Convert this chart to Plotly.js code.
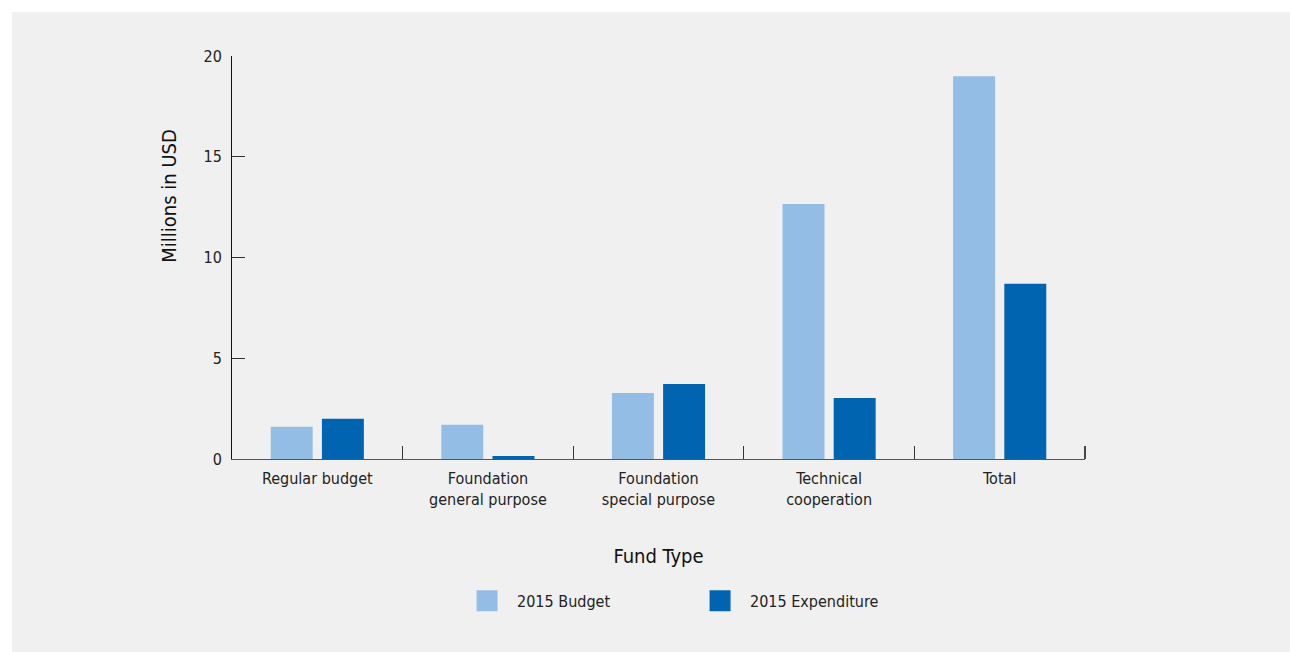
<!DOCTYPE html>
<html>
<head>
<meta charset="utf-8">
<script src="https://cdn.plot.ly/plotly-3.0.1.min.js"></script>
<style>
  html, body { margin: 0; padding: 0; background: #ffffff; }
  #chart { position: absolute; left: 12px; top: 12px; width: 1278px; height: 640px; }
</style>
</head>
<body>
<div id="chart"></div>
<script>
const categories = [
  "Regular budget",
  "Foundation<br>general purpose",
  "Foundation<br>special purpose",
  "Technical<br>cooperation",
  "Total"
];
const budget2015 = [1.6, 1.7, 3.28, 12.65, 19.0];
const expenditure2015 = [2.0, 0.15, 3.72, 3.03, 8.7];
const seriesNames = ["2015 Budget", "2015 Expenditure"];
const yTickValues = [0, 5, 10, 15, 20];

const lightBlue = "#94bde6";
const darkBlue = "#0064b1";
const FONT = "'Liberation Sans Narrow', 'DejaVu Sans Condensed', 'Roboto', sans-serif";

const traces = [
  { type: "bar", name: seriesNames[0], x: categories, y: budget2015,
    marker: { color: lightBlue }, showlegend: false, hoverinfo: "x+y" },
  { type: "bar", name: seriesNames[1], x: categories, y: expenditure2015,
    marker: { color: darkBlue }, showlegend: false, hoverinfo: "x+y" },
  // legend-only entries (large square swatches)
  { type: "scatter", mode: "markers", name: seriesNames[0], x: [null], y: [null],
    marker: { symbol: "square", size: 16, color: lightBlue, line: { color: lightBlue, width: 5 } } },
  { type: "scatter", mode: "markers", name: seriesNames[1], x: [null], y: [null],
    marker: { symbol: "square", size: 16, color: darkBlue, line: { color: darkBlue, width: 5 } } }
];

const layout = {
  width: 1278, height: 640,
  paper_bgcolor: "#f0f0f0",
  plot_bgcolor: "#f0f0f0",
  font: { family: FONT, size: 16, color: "#222222" },
  margin: { l: 220, r: 205, t: 44, b: 193 },
  barmode: "group",
  bargap: 0.4,
  bargroupgap: 0.18,
  showlegend: true,
  legend: {
    orientation: "h",
    x: 0.537, xanchor: "center",
    y: -0.352, yanchor: "middle",
    itemwidth: 50,
    entrywidth: 168,
    font: { family: FONT, size: 16, color: "#222222" },
    bgcolor: "rgba(0,0,0,0)"
  },
  xaxis: {
    type: "category",
    categoryorder: "array",
    categoryarray: categories,
    showgrid: false,
    zeroline: false,
    showline: true,
    linecolor: "#555555",
    linewidth: 1,
    ticks: "inside",
    tickson: "boundaries",
    ticklen: 13,
    tickcolor: "#333333",
    tickwidth: 1,
    ticklabelstandoff: 5,
    tickfont: { family: FONT, size: 16, color: "#222222" },
    mirror: false,
    title: { text: "Fund Type", font: { family: FONT, size: 20, color: "#111111" }, standoff: 40 },
    fixedrange: true
  },
  yaxis: {
    range: [0, 20],
    tickvals: yTickValues,
    ticktext: yTickValues.map(String),
    showgrid: false,
    zeroline: false,
    showline: true,
    linecolor: "#111111",
    linewidth: 1,
    ticks: "inside",
    ticklen: 13,
    tickcolor: "#333333",
    tickwidth: 1,
    ticklabelstandoff: 6,
    tickfont: { family: FONT, size: 16, color: "#222222" },
    fixedrange: true
  },
  shapes: [{
    type: "line", xref: "paper", yref: "paper",
    x0: 1, x1: 1, y0: 0, y1: 0.032,
    line: { color: "#111111", width: 1.5 }
  }],
  annotations: [{
    text: "Millions in USD",
    textangle: -90,
    xref: "paper", yref: "paper",
    x: -0.074, y: 0.653,
    xanchor: "center", yanchor: "middle",
    showarrow: false,
    font: { family: FONT, size: 20, color: "#111111" }
  }]
};

Plotly.newPlot("chart", traces, layout, { displayModeBar: false, staticPlot: true });
</script>
</body>
</html>
